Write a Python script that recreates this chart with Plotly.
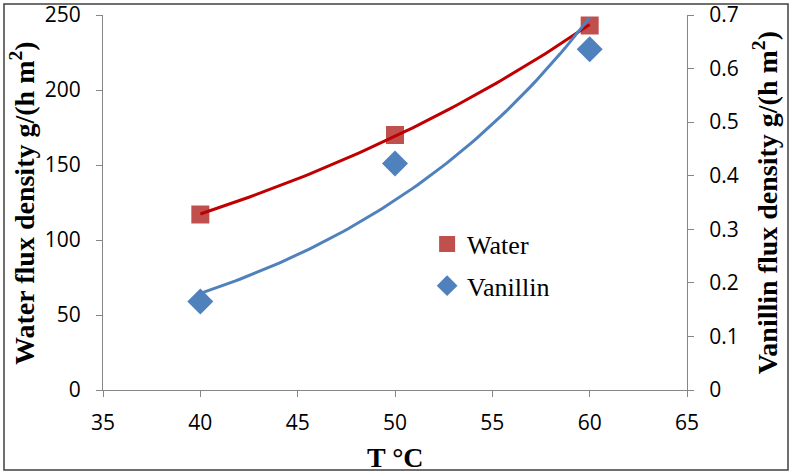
import numpy as np
import plotly.graph_objects as go

# Data
temps = [40, 50, 60]
water_flux = [117, 170, 243]          # g/(h m2), left axis
vanillin_flux = [0.165, 0.423, 0.636]  # g/(h m2), right axis

x_ticks = [35, 40, 45, 50, 55, 60, 65]
y1_ticks = [0, 50, 100, 150, 200, 250]
y2_ticks = [0, 0.1, 0.2, 0.3, 0.4, 0.5, 0.6, 0.7]

# Exponential trend lines (least squares fit on log values, like Excel)
def exp_trend(x, y):
    b, a = np.polyfit(np.array(x, float), np.log(np.array(y, float)), 1)
    xs = np.linspace(min(x), max(x), 80)
    return xs, np.exp(a + b * xs)

wx, wy = exp_trend(temps, water_flux)
vx, vy = exp_trend(temps, vanillin_flux)

fig = go.Figure()
fig.add_trace(go.Scatter(
    x=temps, y=water_flux, mode="markers", name="Water", legendgroup="w",
    marker=dict(symbol="square", size=18, color="#C0504D"), yaxis="y"))
fig.add_trace(go.Scatter(
    x=temps, y=vanillin_flux, mode="markers", name="Vanillin", legendgroup="v",
    marker=dict(symbol="diamond", size=20, color="#4F81BD"), yaxis="y2"))
fig.add_trace(go.Scatter(
    x=wx, y=wy, mode="lines", showlegend=False, hoverinfo="skip",
    line=dict(color="#C00000", width=3), yaxis="y"))
fig.add_trace(go.Scatter(
    x=vx, y=vy, mode="lines", showlegend=False, hoverinfo="skip",
    line=dict(color="#4F81BD", width=3), yaxis="y2"))

tickfont = dict(family="Open Sans, Liberation Sans, sans-serif", size=21, color="#000")
axis_common = dict(showgrid=False, zeroline=False, showline=True, linecolor="#868686",
                   linewidth=1, ticks="outside", ticklen=6, tickcolor="#868686",
                   tickfont=tickfont, automargin=False)

fig.update_layout(
    width=792, height=475,
    margin=dict(l=103, r=105, t=15, b=85),
    paper_bgcolor="white", plot_bgcolor="white",
    xaxis=dict(range=[35, 65], tickvals=x_ticks, ticklabelstandoff=8, **axis_common),
    yaxis=dict(range=[0, 250], tickvals=y1_ticks, ticklabelstandoff=11, **axis_common),
    yaxis2=dict(range=[0, 0.7], tickvals=y2_ticks, overlaying="y", side="right",
                ticklabelstandoff=11, **axis_common),
    legend=dict(x=0.555, y=0.452, xanchor="left", yanchor="top",
                bgcolor="rgba(0,0,0,0)", tracegroupgap=5,
                font=dict(family="Liberation Serif, Times New Roman, serif", size=26,
                          color="#000")),
    showlegend=True,
)

titlefont = dict(family="Liberation Serif, Times New Roman, serif", size=28, color="#000")
fig.add_annotation(text="<b>Water flux density g/(h m<sup>2</sup>)</b>", textangle=-90,
                   xref="paper", yref="paper", x=-0.138, y=0.5, showarrow=False,
                   xanchor="center", yanchor="middle", font=titlefont)
fig.add_annotation(text="<b>Vanillin flux density g/(h m<sup>2</sup>)</b>", textangle=-90,
                   xref="paper", yref="paper", x=1.135, y=0.5, showarrow=False,
                   xanchor="center", yanchor="middle", font=titlefont)
fig.add_annotation(text="<b>T °C</b>", xref="paper", yref="paper", x=0.5, y=-0.18,
                   showarrow=False, xanchor="center", yanchor="middle", font=titlefont)

# Outer chart border
fig.add_shape(type="rect", xref="paper", yref="paper",
              x0=(4 - 103) / 584, x1=(788 - 103) / 584,
              y0=(390 - 470) / 375, y1=(390 - 4) / 375,
              line=dict(color="#404040", width=1.5), fillcolor="rgba(0,0,0,0)")

fig.write_html("out.html", config={"displayModeBar": False},
               post_script="document.body.style.margin='0';document.body.style.overflow='hidden';")
